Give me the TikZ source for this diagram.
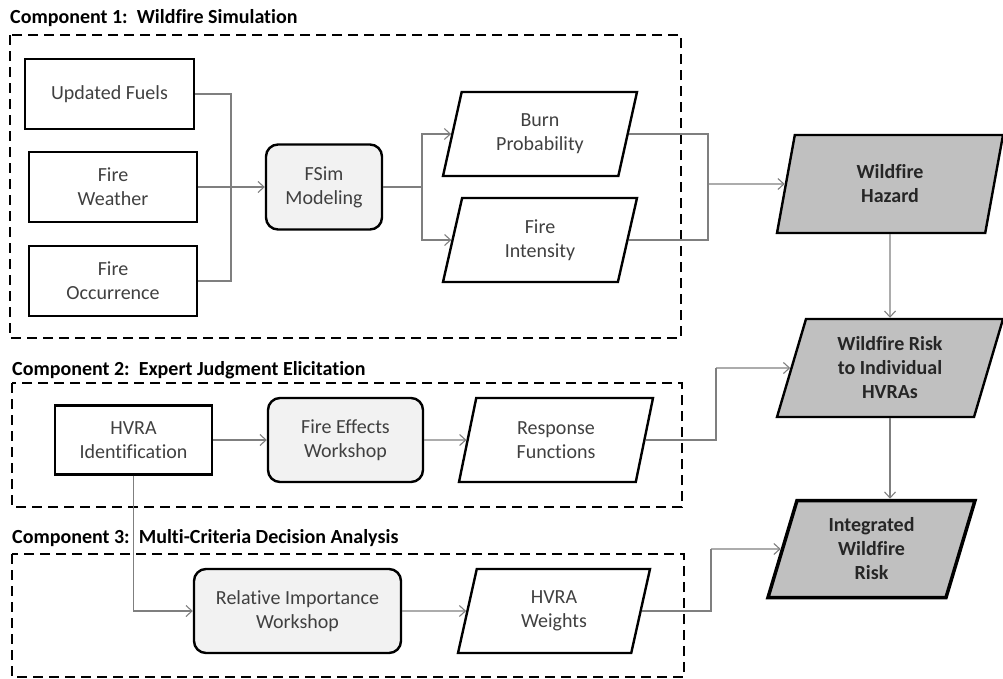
\documentclass[tikz,border=0pt]{standalone}
\usepackage{fontspec}
\setmainfont{Carlito}[Ligatures={NoCommon}]
\usepackage{tikz}
\usetikzlibrary{shapes.geometric,arrows.meta,positioning,calc}

\definecolor{linegray}{HTML}{7F7F7F}
\definecolor{txtgray}{HTML}{404040}
\definecolor{lightfill}{HTML}{F2F2F2}
\definecolor{hazfill}{HTML}{C0C0C0}

\tikzset{
  every node/.style={font=\fontsize{20}{24}\selectfont},
  heading/.style={anchor=west, inner sep=0pt, font=\fontsize{20}{24}\selectfont\bfseries},
  group/.style={draw, line width=2.3pt, dash pattern=on 10pt off 6pt},
  databox/.style={draw, line width=2.4pt, text=txtgray, align=center, inner sep=0pt},
  workbox/.style={databox, fill=lightfill, rounded corners=12pt},
  dataout/.style={databox, trapezium, trapezium left angle=65, trapezium right angle=115,
    trapezium stretches body},
  result/.style={dataout, fill=hazfill, text=black!85, font=\fontsize{20}{24}\selectfont\bfseries},
  wire/.style={draw=linegray, line width=1.1pt},
  link/.style={wire, -{Straight Barb[length=6pt,width=11pt]}}
}

\begin{document}
\begin{tikzpicture}[x=1pt, y=-1pt]
    \useasboundingbox (0,0) rectangle (1003,678);

    % Component 1
    \node[heading] (title1) at (10,18) {Component 1:\ \ Wildfire Simulation};
    \draw[group] (10,35) rectangle (681,338);
    \node[databox, minimum width=169pt, minimum height=70pt] (fuels) at (109.5,94) {Updated Fuels};
    \node[databox, minimum width=168pt, minimum height=70pt] (weather) at (113,187) {Fire\\Weather};
    \node[databox, minimum width=168pt, minimum height=70pt] (occur) at (113,281) {Fire\\Occurrence};
    \node[workbox, minimum width=116pt, minimum height=85pt] (fsim) at (324,187) {FSim\\Modeling};
    \node[dataout, minimum width=194pt, minimum height=84pt] (burn) at (540,134) {Burn\\Probability};
    \node[dataout, minimum width=194pt, minimum height=84pt] (intens) at (540,240) {Fire\\Intensity};

    % Component 2
    \node[heading] (title2) at (12,370) {Component 2:\ \ Expert Judgment Elicitation};
    \draw[group] (12,383) rectangle (682,507);
    \node[databox, minimum width=157pt, minimum height=69pt] (hvraid) at (133.5,440) {HVRA\\Identification};
    \node[workbox, minimum width=155pt, minimum height=84pt] (effects) at (345.5,440) {Fire Effects\\Workshop};
    \node[dataout, minimum width=194pt, minimum height=84pt] (resp) at (556,440) {Response\\Functions};

    % Component 3
    \node[heading] (title3) at (12,538) {Component 3:\ \ Multi-Criteria Decision Analysis};
    \draw[group] (12,554) rectangle (684,677);
    \node[workbox, minimum width=207pt, minimum height=84pt] (relimp) at (297.5,611) {Relative Importance\\Workshop};
    \node[dataout, minimum width=192pt, minimum height=84pt] (weights) at (554,611) {HVRA\\Weights};

    % Results
    \node[result, minimum width=226pt, minimum height=98pt] (hazard) at (890,184) {Wildfire\\Hazard};
    \node[result, minimum width=226pt, minimum height=98pt] (risk) at (890,368) {Wildfire Risk\\to Individual\\HVRAs};
    \node[result, line width=3.5pt, minimum width=207pt, minimum height=97pt] (integ) at (871.5,549) {Integrated\\Wildfire\\Risk};

    % Junctions
    \coordinate (j1) at (231,187);
    \coordinate (j2) at (422,187);
    \coordinate (j3) at (708,184);
    \coordinate (j4) at (716,368);
    \coordinate (j5) at (711,549);

    % Connectors
    \draw[wire] (fuels.east) -| (j1);
    \draw[wire] (occur.east) -| (j1);
    \draw[link] (weather.east) -- (fsim.west);
    \draw[wire] (fsim.east) -- (j2);
    \draw[link] (j2) |- (burn.west);
    \draw[link] (j2) |- (intens.west);
    \draw[wire] (burn.east) -| (j3);
    \draw[wire] (intens.east) -| (j3);
    \draw[link] (j3) -- (hazard.west);
    \draw[link] (hazard.south) -- (risk.north);
    \draw[link] (hvraid.east) -- (effects.west);
    \draw[link] (effects.east) -- (resp.west);
    \draw[wire] (resp.east) -| (j4);
    \draw[link] (j4) -- (risk.west);
    \draw[link] (risk.south) -- (risk.south |- integ.north);
    \draw[link] (hvraid.south) |- (relimp.west);
    \draw[link] (relimp.east) -- (weights.west);
    \draw[wire] (weights.east) -| (j5);
    \draw[link] (j5) -- (integ.west);
\end{tikzpicture}
\end{document}
